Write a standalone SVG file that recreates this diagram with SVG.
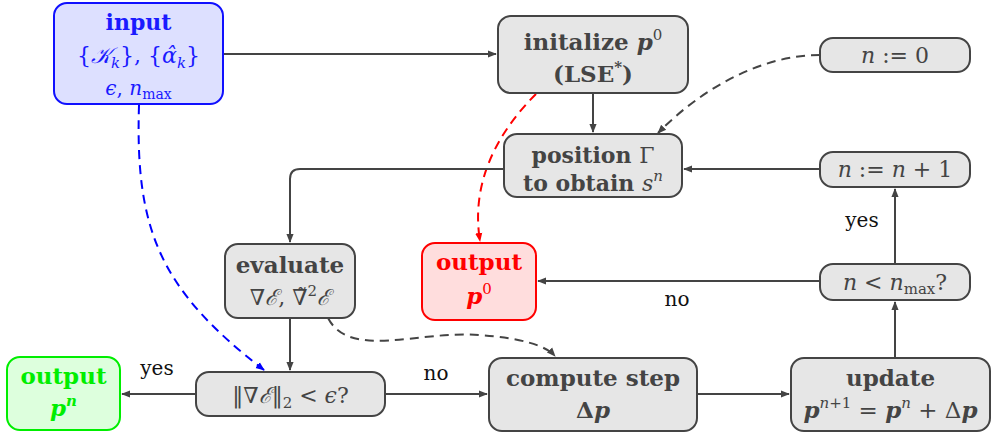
<svg xmlns="http://www.w3.org/2000/svg" width="993" height="438" viewBox="0 0 993 438">
<defs>
<marker id="ah" viewBox="0 0 10 10" refX="9" refY="5" markerWidth="9" markerHeight="9" markerUnits="userSpaceOnUse" orient="auto"><path d="M0,1 L10,5 L0,9 Z" fill="#444"/></marker>
<marker id="ahb" viewBox="0 0 10 10" refX="9" refY="5" markerWidth="9" markerHeight="9" markerUnits="userSpaceOnUse" orient="auto"><path d="M0,1 L10,5 L0,9 Z" fill="#0000ff"/></marker>
<marker id="ahr" viewBox="0 0 10 10" refX="9" refY="5" markerWidth="9" markerHeight="9" markerUnits="userSpaceOnUse" orient="auto"><path d="M0,1 L10,5 L0,9 Z" fill="#ff0000"/></marker>
</defs>
<style>
.box{fill:#e6e6e6;stroke:#444;stroke-width:2}
.t{font-family:"DejaVu Serif","Liberation Serif",serif;fill:#444;font-size:22px;text-anchor:middle}
.b{font-weight:bold}
.i{font-style:italic}
.c{fill:none;stroke:#444;stroke-width:2}
.d{stroke-dasharray:9,6}
.lbl{font-family:"DejaVu Serif","Liberation Serif",serif;fill:#111;font-size:20px;text-anchor:middle}
</style>
<g id="connectors">
<path class="c" d="M223,54 H496" marker-end="url(#ah)"/>
<path class="c" d="M593,93 V132" marker-end="url(#ah)"/>
<path class="c d" d="M820,55 C760,55 700,90 658,133" marker-end="url(#ah)"/>
<path class="c d" d="M536,94 C500,130 470,180 480,241" style="stroke:#ff0000" marker-end="url(#ahr)"/>
<path class="c d" d="M139,105 C135,230 160,290 264,370" style="stroke:#0000ff" marker-end="url(#ahb)"/>
<path class="c" d="M820,169 H684" marker-end="url(#ah)"/>
<path class="c" d="M504,169 H300 Q290,169 290,179 V242" marker-end="url(#ah)"/>
<path class="c" d="M290,318 V370" marker-end="url(#ah)"/>
<path class="c d" d="M328,318 C350,360 420,330 480,335 C520,338 545,345 555,356" marker-end="url(#ah)"/>
<path class="c" d="M196,394 H122" marker-end="url(#ah)"/>
<path class="c" d="M385,394 H487" marker-end="url(#ah)"/>
<path class="c" d="M697,394 H789" marker-end="url(#ah)"/>
<path class="c" d="M895,358 V302" marker-end="url(#ah)"/>
<path class="c" d="M895,264 V189" marker-end="url(#ah)"/>
<path class="c" d="M820,281 H538" marker-end="url(#ah)"/>
<text class="lbl" x="157" y="375">yes</text>
<text class="lbl" x="436" y="380">no</text>
<text class="lbl" x="862" y="227">yes</text>
<text class="lbl" x="677" y="306">no</text>
</g>
<g id="input">
<rect x="54" y="3" width="169" height="101" rx="13" fill="#dde0ff" stroke="#1010ff" stroke-width="2"/>
<text class="t b" x="138.5" y="30" style="fill:#1a1aff">input</text>
<text class="t" x="138.5" y="63" style="fill:#1a1aff;font-size:22px">{<tspan class="i">𝒦</tspan><tspan class="i" font-size="15" dy="5">k</tspan><tspan dy="-5">}, {</tspan><tspan class="i">α̂</tspan><tspan class="i" font-size="15" dy="5">k</tspan><tspan dy="-5">}</tspan></text>
<text class="t" x="138.5" y="95" style="fill:#1a1aff;font-size:20px"><tspan class="i">ϵ</tspan>, <tspan class="i">n</tspan><tspan font-size="14" dy="4">max</tspan></text>
</g>
<g id="initialize">
<rect class="box" x="498" y="16" width="190" height="77" rx="13"/>
<text class="t b" x="593" y="50" style="font-size:23px">initalize <tspan class="i">p</tspan><tspan font-size="15" font-weight="normal" dy="-10">0</tspan></text>
<text class="t b" x="593" y="82" style="font-size:23px">(LSE<tspan font-size="15" dy="-10">*</tspan><tspan dy="10">)</tspan></text>
</g>
<g id="n0">
<rect class="box" x="820" y="38" width="150" height="34" rx="13"/>
<text class="t" x="895" y="63"><tspan class="i">n</tspan> := 0</text>
</g>
<g id="position">
<rect class="box" x="504" y="134" width="178" height="63" rx="13"/>
<text class="t b" x="593" y="163" style="font-size:22px">position <tspan font-weight="normal">Γ</tspan></text>
<text class="t b" x="593" y="191" style="font-size:22px">to obtain <tspan class="i" font-weight="normal">s</tspan><tspan class="i" font-weight="normal" font-size="15" dy="-10">n</tspan></text>
</g>
<g id="ninc">
<rect class="box" x="820" y="152" width="150" height="35" rx="13"/>
<text class="t" x="895" y="177"><tspan class="i">n</tspan> := <tspan class="i">n</tspan> + 1</text>
</g>
<g id="evaluate">
<rect class="box" x="225" y="244" width="130" height="74" rx="13"/>
<text class="t b" x="290" y="273" style="font-size:23px">evaluate</text>
<text class="t" x="290" y="305">∇<tspan class="i">ℰ</tspan>, ∇̃<tspan font-size="15" dy="-9">2</tspan><tspan class="i" dy="9">ℰ</tspan></text>
</g>
<g id="output0">
<rect x="422" y="243" width="114" height="77" rx="13" fill="#ffdddd" stroke="#ff0000" stroke-width="2"/>
<text class="t b" x="479" y="270" style="fill:#ff0000;font-size:23px">output</text>
<text class="t b" x="479" y="304" style="fill:#ff0000;font-size:23px"><tspan class="i">p</tspan><tspan font-size="15" font-weight="normal" dy="-10">0</tspan></text>
</g>
<g id="nless">
<rect class="box" x="820" y="264" width="150" height="36" rx="13"/>
<text class="t" x="895" y="290"><tspan class="i">n</tspan> &lt; <tspan class="i">n</tspan><tspan font-size="15" dy="4">max</tspan><tspan dy="-4">?</tspan></text>
</g>
<g id="outputn">
<rect x="7" y="357" width="113" height="73" rx="13" fill="#ddffdd" stroke="#00ee00" stroke-width="2"/>
<text class="t b" x="63.5" y="384" style="fill:#00ee00;font-size:23px">output</text>
<text class="t b" x="63.5" y="416" style="fill:#00ee00;font-size:23px"><tspan class="i">p</tspan><tspan class="i" font-size="15" dy="-10">n</tspan></text>
</g>
<g id="check">
<rect class="box" x="196" y="372" width="189" height="44" rx="13"/>
<text class="t" x="290.5" y="403">‖∇<tspan class="i">ℰ</tspan>‖<tspan font-size="15" dy="5">2</tspan><tspan dy="-5"> &lt; </tspan><tspan class="i">ϵ</tspan>?</text>
</g>
<g id="compute">
<rect class="box" x="489" y="358" width="208" height="73" rx="13"/>
<text class="t b" x="593" y="386" style="font-size:23px">compute step</text>
<text class="t b" x="593" y="418" style="font-size:23px">Δ<tspan class="i">p</tspan></text>
</g>
<g id="update">
<rect class="box" x="791" y="358" width="199" height="73" rx="13"/>
<text class="t b" x="890.5" y="386" style="font-size:23px">update</text>
<text class="t" x="890.5" y="418" style="font-size:23px"><tspan class="i b">p</tspan><tspan class="i" font-size="15" dy="-10">n</tspan><tspan font-size="15">+1</tspan><tspan dy="10"> = </tspan><tspan class="i b">p</tspan><tspan class="i" font-size="15" dy="-10">n</tspan><tspan dy="10"> + Δ</tspan><tspan class="i b">p</tspan></text>
</g>
</svg>
